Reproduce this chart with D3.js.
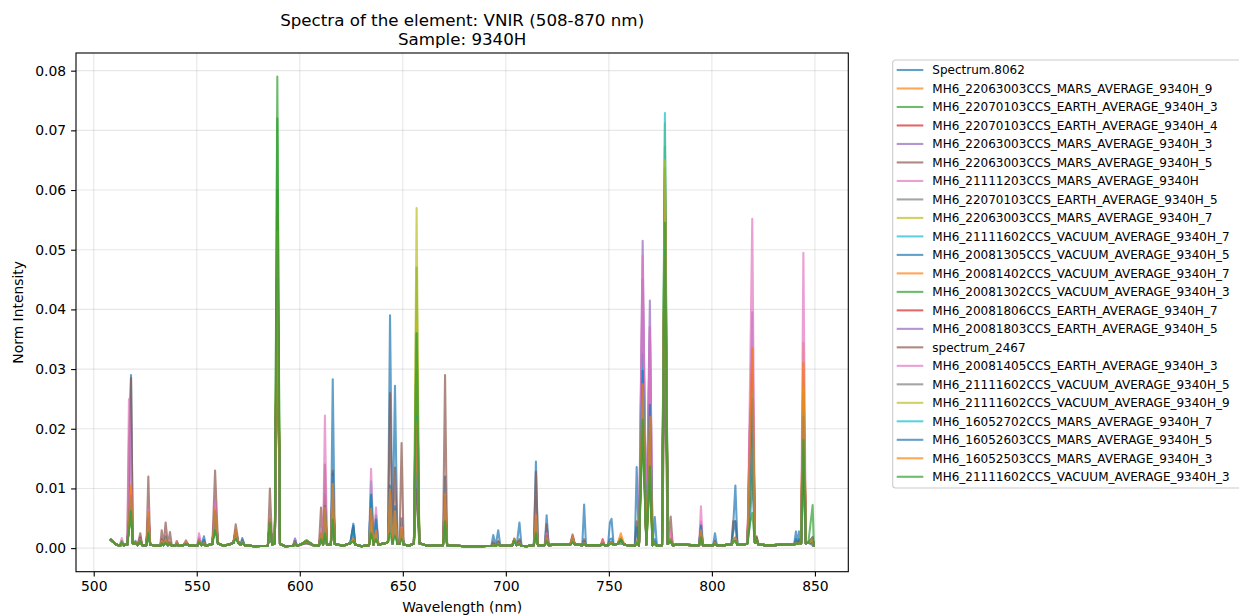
<!DOCTYPE html>
<html>
<head>
<meta charset="utf-8">
<title>Spectra of the element: VNIR</title>
<script src="https://cdn.jsdelivr.net/npm/d3@7"></script>
<style>
  body { margin: 0; background: #fff; }
  svg { font-family: "DejaVu Sans", sans-serif; }
</style>
</head>
<body>
<svg id="chart" width="1239" height="615"></svg>
<script>
// ---- data ----
const seriesNames = [
  "Spectrum.8062",
  "MH6_22063003CCS_MARS_AVERAGE_9340H_9",
  "MH6_22070103CCS_EARTH_AVERAGE_9340H_3",
  "MH6_22070103CCS_EARTH_AVERAGE_9340H_4",
  "MH6_22063003CCS_MARS_AVERAGE_9340H_3",
  "MH6_22063003CCS_MARS_AVERAGE_9340H_5",
  "MH6_21111203CCS_MARS_AVERAGE_9340H",
  "MH6_22070103CCS_EARTH_AVERAGE_9340H_5",
  "MH6_22063003CCS_MARS_AVERAGE_9340H_7",
  "MH6_21111602CCS_VACUUM_AVERAGE_9340H_7",
  "MH6_20081305CCS_VACUUM_AVERAGE_9340H_5",
  "MH6_20081402CCS_VACUUM_AVERAGE_9340H_7",
  "MH6_20081302CCS_VACUUM_AVERAGE_9340H_3",
  "MH6_20081806CCS_EARTH_AVERAGE_9340H_7",
  "MH6_20081803CCS_EARTH_AVERAGE_9340H_5",
  "spectrum_2467",
  "MH6_20081405CCS_EARTH_AVERAGE_9340H_3",
  "MH6_21111602CCS_VACUUM_AVERAGE_9340H_5",
  "MH6_21111602CCS_VACUUM_AVERAGE_9340H_9",
  "MH6_16052702CCS_MARS_AVERAGE_9340H_7",
  "MH6_16052603CCS_MARS_AVERAGE_9340H_5",
  "MH6_16052503CCS_MARS_AVERAGE_9340H_3",
  "MH6_21111602CCS_VACUUM_AVERAGE_9340H_3"
];

// emission line centres (nm)
const peakNm = [
  513.6, 517.1, 518.1, 520.3, 522.6, 526.5, 533.0, 534.9, 537.0, 540.3,
  544.8, 551.1, 553.5, 558.9, 568.9, 572.1, 585.5, 589.1, 597.7, 603.3,
  610.3, 612.2, 616.0, 626.0, 634.6, 637.0, 643.8, 646.2, 649.4, 656.7,
  670.5, 693.9, 696.3, 704.1, 706.6, 714.6, 719.8, 732.4, 738.0, 747.0,
  750.5, 751.3, 755.8, 763.5, 766.4, 769.9, 772.3, 777.2, 780.0, 794.7,
  801.5, 810.3, 811.4, 818.4, 819.6, 821.7, 840.8, 842.3, 844.4, 848.9
];

// continuum between the lines, common to all spectra
const floorNm = [
  508, 510.5, 512.6, 514.6, 516.3, 519.0, 521.3, 523.5, 525.6, 527.4,
  530, 532.3, 533.9, 536.0, 537.9, 539.5, 541.3, 543.5, 546, 549,
  550.3, 552.3, 554.4, 557.6, 560.3, 563, 566.5, 567.8, 570.3, 571.3,
  573.2, 578, 584.5, 586.6, 587.9, 590.4, 593, 596.8, 598.6, 600.5,
  606.5, 609.3, 611.3, 613.2, 615.1, 617, 621, 624.5, 626.9, 630,
  633.6, 635.8, 638.1, 641.5, 642.8, 645, 647.4, 648.4, 650.4, 653,
  655.4, 658, 662, 669.5, 671.5, 680, 688, 693.0, 695.1, 697.3,
  701, 703.2, 705.3, 707.6, 710, 713.6, 715.6, 718.9, 720.8, 726,
  731.3, 733.5, 737.1, 738.9, 743, 746.1, 747.9, 749.6, 752.3, 754.2,
  757.4, 760, 762.6, 764.6, 768.2, 771.2, 773.3, 775.8, 778.6, 781,
  785, 790, 793.8, 795.6, 798, 800.6, 802.4, 806, 809.5, 812.4,
  816, 817.3, 820.9, 822.6, 826, 830, 836, 839.9, 841.6, 843.3,
  845.6, 846.8, 849.5
];
const floorVal = [
  0.0015, 0.0007, 0.0004, 0.0005, 0.0006, 0.0008, 0.0005, 0.0005, 0.0005, 0.0006,
  0.0004, 0.0004, 0.0005, 0.0005, 0.0004, 0.0004, 0.0004, 0.0005, 0.0005, 0.0004,
  0.0004, 0.0005, 0.0004, 0.0007, 0.0008, 0.0004, 0.0007, 0.0009, 0.0008, 0.0006,
  0.0005, 0.0003, 0.0004, 0.0006, 0.0008, 0.0007, 0.0003, 0.0004, 0.0004, 0.0006,
  0.0005, 0.0004, 0.0006, 0.0006, 0.0006, 0.0007, 0.0004, 0.0008, 0.0006, 0.0003,
  0.0005, 0.0006, 0.0006, 0.0008, 0.001, 0.0008, 0.0007, 0.0007, 0.0006, 0.0004,
  0.0008, 0.0008, 0.0004, 0.0005, 0.0005, 0.0003, 0.0003, 0.0004, 0.0004, 0.0004,
  0.0004, 0.0005, 0.0005, 0.0004, 0.0003, 0.0005, 0.0005, 0.0005, 0.0005, 0.0006,
  0.0006, 0.0006, 0.0005, 0.0005, 0.0005, 0.0005, 0.0005, 0.0005, 0.0006, 0.0007,
  0.0006, 0.0004, 0.0004, 0.0004, 0.0006, 0.0005, 0.0004, 0.0005, 0.0007, 0.0005,
  0.0006, 0.0005, 0.0005, 0.0005, 0.0005, 0.0005, 0.0005, 0.0005, 0.0006, 0.0006,
  0.0006, 0.0008, 0.0009, 0.0006, 0.0005, 0.0005, 0.0006, 0.0006, 0.0007, 0.0008,
  0.0008, 0.0009, 0.0003
];

// line heights per spectrum, same order as peakNm
const sp00 = [0.0005,0.004,0.029,0.0012,0.0015,0.006,0.0015,0.002,0.001,0.0008,
  0.0008,0.0012,0.002,0.005,0.0025,0.0017,0.003,0.047,0.0016,0.0008,
  0.002,0.006,0.0283,0.0041,0.009,0.0055,0.039,0.0272,0.005,0.012,
  0.012,0.0022,0.003,0.001,0.0043,0.0145,0.0055,0.001,0.0073,0.001,
  0.0043,0.0049,0.0008,0.0136,0.0325,0.024,0.0052,0.054,0.0015,0.004,
  0.0025,0.0035,0.0105,0.004,0.012,0.001,0.0028,0.0028,0.02,0.0005];
const sp01 = [0.0006,0.004,0.0105,0.0008,0.0012,0.006,0.001,0.0012,0.0009,0.0006,
  0.0008,0.0012,0.0008,0.0065,0.003,0.001,0.0045,0.055,0.0006,0.001,
  0.0025,0.007,0.010,0.0015,0.0065,0.003,0.0095,0.006,0.0035,0.030,
  0.0085,0.0005,0.0006,0.0015,0.0008,0.005,0.0018,0.002,0.0008,0.0009,
  0.0008,0.0009,0.0018,0.001,0.0277,0.0205,0.0008,0.058,0.0012,0.0028,
  0.0008,0.0012,0.0018,0.015,0.0335,0.0013,0.0008,0.0008,0.0344,0.0015];
const sp02 = [0.0007,0.0035,0.006,0.0008,0.001,0.0035,0.0009,0.001,0.0008,0.0006,
  0.0007,0.001,0.0007,0.0045,0.0022,0.0009,0.0045,0.072,0.0007,0.0013,
  0.0018,0.005,0.008,0.0014,0.004,0.002,0.006,0.004,0.0025,0.047,
  0.0055,0.0005,0.0006,0.0012,0.0007,0.0035,0.0013,0.0014,0.0007,0.0007,
  0.0007,0.0008,0.001,0.0009,0.021,0.013,0.0008,0.0673,0.001,0.002,
  0.0007,0.001,0.0013,0.009,0.02,0.001,0.0007,0.0007,0.0262,0.0012];
const sp03 = [0.0006,0.004,0.007,0.0008,0.0012,0.0045,0.001,0.0012,0.0009,0.0006,
  0.0008,0.0012,0.0008,0.0055,0.0025,0.001,0.0042,0.052,0.0008,0.0012,
  0.0022,0.0065,0.0095,0.0015,0.005,0.0025,0.0085,0.0055,0.003,0.026,
  0.0065,0.0006,0.0007,0.0012,0.0008,0.0042,0.0016,0.0016,0.0008,0.0008,
  0.0007,0.0008,0.0012,0.001,0.026,0.019,0.0008,0.056,0.0014,0.0026,
  0.0008,0.0013,0.0016,0.0205,0.027,0.0016,0.0008,0.0008,0.024,0.0015];
const sp04 = [0.0006,0.0035,0.006,0.0008,0.0011,0.004,0.001,0.0011,0.0009,0.0006,
  0.0007,0.0011,0.0008,0.0048,0.0023,0.001,0.0038,0.048,0.0007,0.0011,
  0.0019,0.0055,0.0085,0.0014,0.0045,0.0022,0.0075,0.0048,0.0028,0.022,
  0.0055,0.0006,0.0007,0.0011,0.0008,0.0038,0.0014,0.0014,0.0008,0.0008,
  0.0007,0.0008,0.0011,0.001,0.0515,0.0415,0.0008,0.052,0.0012,0.0024,
  0.0008,0.0012,0.0014,0.011,0.024,0.0011,0.0008,0.0008,0.022,0.0014];
const sp05 = [0.0007,0.0045,0.0075,0.0009,0.0013,0.005,0.0011,0.0013,0.001,0.0007,
  0.0008,0.0013,0.0009,0.0058,0.0027,0.0011,0.0045,0.05,0.0008,0.0012,
  0.0023,0.0068,0.0098,0.0016,0.0052,0.0026,0.009,0.0058,0.0032,0.027,
  0.0068,0.0006,0.0007,0.0013,0.0009,0.0045,0.0017,0.0018,0.0008,0.0009,
  0.0008,0.0009,0.0013,0.0011,0.028,0.021,0.0009,0.058,0.0015,0.0027,
  0.0009,0.0014,0.0017,0.013,0.028,0.0013,0.0009,0.0009,0.026,0.0016];
const sp06 = [0.0009,0.006,0.008,0.0009,0.0014,0.0055,0.0012,0.0014,0.001,0.0008,
  0.0009,0.0018,0.0009,0.008,0.003,0.0011,0.0048,0.046,0.0014,0.0012,
  0.0028,0.009,0.011,0.0016,0.007,0.0032,0.0095,0.0065,0.0035,0.024,
  0.0075,0.0006,0.0008,0.0013,0.0009,0.0055,0.002,0.0018,0.0009,0.0009,
  0.0008,0.0009,0.0014,0.0012,0.032,0.0285,0.0009,0.05,0.003,0.0045,
  0.0009,0.0014,0.0017,0.016,0.032,0.0014,0.0009,0.0009,0.028,0.0018];
const sp07 = [0.0006,0.0038,0.0062,0.0008,0.0011,0.0038,0.001,0.0011,0.0009,0.0006,
  0.0008,0.0011,0.0008,0.0048,0.0024,0.001,0.0039,0.049,0.0008,0.0012,
  0.0019,0.0058,0.0088,0.0014,0.0048,0.0024,0.0078,0.0049,0.0029,0.024,
  0.0058,0.0006,0.0007,0.0012,0.0008,0.0039,0.0015,0.0015,0.0008,0.0008,
  0.0007,0.0008,0.0012,0.001,0.025,0.0175,0.0008,0.054,0.0012,0.0024,
  0.0008,0.0012,0.0015,0.012,0.025,0.0012,0.0008,0.0008,0.023,0.0014];
const sp08 = [0.0006,0.004,0.0065,0.0008,0.0011,0.0042,0.001,0.0012,0.0009,0.0006,
  0.0008,0.0012,0.0008,0.005,0.0025,0.001,0.004,0.058,0.0008,0.0012,
  0.002,0.006,0.009,0.0015,0.005,0.0025,0.0082,0.0052,0.003,0.057,
  0.0062,0.0006,0.0007,0.0012,0.0008,0.004,0.0015,0.0016,0.0008,0.0008,
  0.0007,0.0008,0.0012,0.001,0.027,0.019,0.0008,0.0712,0.0013,0.0025,
  0.0008,0.0012,0.0015,0.013,0.029,0.0012,0.0008,0.0008,0.031,0.0015];
const sp09 = [0.0006,0.0035,0.0065,0.0008,0.001,0.0038,0.0009,0.001,0.0008,0.0006,
  0.0007,0.001,0.0008,0.0045,0.0022,0.0009,0.0038,0.05,0.0007,0.0012,
  0.0018,0.0055,0.009,0.0014,0.0112,0.0053,0.009,0.005,0.0028,0.03,
  0.0058,0.0005,0.0006,0.0012,0.0007,0.0038,0.0014,0.0014,0.0007,0.0007,
  0.0007,0.0008,0.001,0.0009,0.032,0.024,0.0008,0.0729,0.0012,0.0024,
  0.0007,0.0011,0.0014,0.011,0.022,0.0011,0.0007,0.0007,0.0279,0.0013];
const sp10 = [0.0006,0.0038,0.0072,0.0008,0.0011,0.0042,0.001,0.0011,0.0009,0.0006,
  0.0008,0.0011,0.0009,0.005,0.0025,0.001,0.004,0.052,0.0008,0.0012,
  0.002,0.006,0.0095,0.0015,0.006,0.003,0.0085,0.0055,0.003,0.028,
  0.0062,0.0006,0.0007,0.0012,0.0008,0.004,0.0015,0.0015,0.0008,0.0008,
  0.0007,0.0008,0.0012,0.001,0.0297,0.0215,0.0008,0.06,0.0013,0.0026,
  0.0008,0.0012,0.0015,0.012,0.026,0.0012,0.0008,0.0008,0.025,0.0015];
const sp11 = [0.0006,0.0042,0.0085,0.0008,0.0012,0.0058,0.001,0.0012,0.0009,0.0006,
  0.0008,0.0012,0.0008,0.006,0.0028,0.001,0.0042,0.056,0.0008,0.0012,
  0.0022,0.0068,0.0105,0.0015,0.0055,0.0028,0.009,0.0058,0.0033,0.032,
  0.0078,0.0006,0.0007,0.0014,0.0008,0.0048,0.0016,0.0019,0.0008,0.0009,
  0.0008,0.0009,0.0016,0.001,0.0275,0.0135,0.0008,0.06,0.0013,0.0027,
  0.0008,0.0013,0.0017,0.014,0.031,0.0013,0.0008,0.0008,0.03,0.0015];
const sp12 = [0.0006,0.0035,0.006,0.0007,0.001,0.0035,0.0009,0.001,0.0008,0.0006,
  0.0007,0.001,0.0007,0.0042,0.002,0.0009,0.0038,0.06,0.0007,0.0013,
  0.0018,0.005,0.0078,0.0013,0.004,0.002,0.0065,0.0042,0.0026,0.036,
  0.0052,0.0005,0.0006,0.0012,0.0007,0.0034,0.0013,0.0014,0.0007,0.0007,
  0.0007,0.0008,0.001,0.0009,0.02,0.012,0.0008,0.0637,0.001,0.002,
  0.0007,0.001,0.0012,0.008,0.017,0.001,0.0007,0.0007,0.0181,0.0012];
const sp13 = [0.0007,0.0042,0.007,0.0009,0.0018,0.0048,0.001,0.0012,0.0009,0.0007,
  0.0008,0.0013,0.0008,0.0055,0.0026,0.001,0.0045,0.05,0.0009,0.0012,
  0.0023,0.0065,0.0095,0.0015,0.005,0.0025,0.0085,0.0055,0.003,0.026,
  0.0068,0.0006,0.0007,0.0013,0.0008,0.0042,0.0022,0.0017,0.0008,0.0015,
  0.0008,0.0009,0.0012,0.0011,0.026,0.0195,0.0009,0.057,0.0016,0.0028,
  0.0008,0.0013,0.0016,0.019,0.029,0.0018,0.0008,0.0008,0.025,0.0016];
const sp14 = [0.0006,0.0038,0.0065,0.0008,0.0011,0.0042,0.001,0.0011,0.0009,0.0006,
  0.0008,0.0011,0.0008,0.005,0.0024,0.001,0.004,0.05,0.0008,0.0012,
  0.002,0.006,0.009,0.0015,0.005,0.0024,0.008,0.005,0.003,0.025,
  0.006,0.0006,0.0007,0.0012,0.0008,0.004,0.0015,0.0015,0.0008,0.0008,
  0.0007,0.0008,0.0012,0.001,0.045,0.037,0.0008,0.055,0.0013,0.0025,
  0.0008,0.0012,0.0015,0.018,0.0395,0.0012,0.0008,0.0008,0.024,0.0015];
const sp15 = [0.0008,0.018,0.0285,0.001,0.0025,0.012,0.003,0.0043,0.0027,0.0012,
  0.0013,0.0015,0.001,0.013,0.004,0.0012,0.010,0.04,0.001,0.0008,
  0.0068,0.014,0.013,0.0035,0.006,0.003,0.026,0.0135,0.0176,0.01,
  0.029,0.001,0.0012,0.0015,0.0015,0.0128,0.004,0.0023,0.0015,0.001,
  0.001,0.001,0.0008,0.0045,0.025,0.02,0.001,0.03,0.0053,0.0035,
  0.001,0.0045,0.0045,0.01,0.02,0.002,0.0012,0.0012,0.012,0.0008];
const sp16 = [0.0017,0.025,0.012,0.001,0.0015,0.0065,0.0012,0.0014,0.001,0.0008,
  0.0009,0.0025,0.0009,0.008,0.0028,0.0011,0.0045,0.045,0.0015,0.0012,
  0.003,0.0222,0.012,0.0016,0.0133,0.0068,0.009,0.0065,0.0035,0.026,
  0.008,0.0006,0.0008,0.0013,0.0009,0.005,0.0025,0.0018,0.0009,0.0012,
  0.0008,0.0009,0.0014,0.0012,0.049,0.037,0.0009,0.052,0.003,0.007,
  0.0009,0.0014,0.0017,0.025,0.0552,0.0014,0.0009,0.0009,0.0495,0.0019];
const sp17 = [0.0006,0.0035,0.006,0.0008,0.001,0.0036,0.0009,0.001,0.0008,0.0006,
  0.0007,0.001,0.0007,0.0045,0.0022,0.0009,0.0038,0.051,0.0007,0.0013,
  0.0018,0.0052,0.0082,0.0014,0.0045,0.0022,0.0072,0.0045,0.0027,0.035,
  0.0056,0.0005,0.0006,0.0012,0.0007,0.0036,0.0013,0.0014,0.0007,0.0007,
  0.0007,0.0008,0.001,0.0009,0.024,0.017,0.0008,0.062,0.0011,0.0022,
  0.0007,0.0011,0.0013,0.01,0.021,0.0011,0.0007,0.0007,0.026,0.0013];
const sp18 = [0.0006,0.0036,0.0062,0.0008,0.001,0.0038,0.0009,0.001,0.0008,0.0006,
  0.0007,0.001,0.0007,0.0046,0.0022,0.0009,0.0038,0.053,0.0007,0.0013,
  0.0018,0.0054,0.0085,0.0014,0.0046,0.0023,0.0074,0.0046,0.0027,0.038,
  0.0057,0.0005,0.0006,0.0012,0.0007,0.0037,0.0013,0.0014,0.0007,0.0007,
  0.0007,0.0008,0.001,0.0009,0.025,0.0175,0.0008,0.065,0.0011,0.0022,
  0.0007,0.0011,0.0013,0.011,0.023,0.0011,0.0007,0.0007,0.027,0.0013];
const sp19 = [0.0007,0.0045,0.0078,0.0009,0.0012,0.0048,0.001,0.0012,0.0009,0.0007,
  0.0008,0.0012,0.0009,0.0058,0.0026,0.0012,0.0045,0.046,0.0009,0.0011,
  0.0022,0.0065,0.011,0.0028,0.009,0.0042,0.0095,0.0065,0.003,0.022,
  0.007,0.0006,0.0008,0.0016,0.0009,0.0045,0.0017,0.0017,0.0009,0.0009,
  0.0008,0.0009,0.0013,0.0012,0.03,0.022,0.0009,0.05,0.0014,0.0035,
  0.0009,0.0014,0.0017,0.012,0.026,0.0013,0.0009,0.0009,0.023,0.0016];
const sp20 = [0.0007,0.0048,0.0088,0.0009,0.0013,0.0052,0.0011,0.0013,0.001,0.0007,
  0.0008,0.0013,0.0014,0.0062,0.0028,0.0014,0.0048,0.045,0.0012,0.0011,
  0.0024,0.007,0.0125,0.0038,0.0089,0.0048,0.0105,0.007,0.0032,0.02,
  0.0088,0.0008,0.001,0.0015,0.0012,0.005,0.002,0.0018,0.0012,0.0009,
  0.0015,0.0016,0.0013,0.0035,0.0297,0.024,0.0015,0.048,0.0015,0.0038,
  0.0012,0.0025,0.0045,0.012,0.025,0.0013,0.0015,0.0015,0.022,0.0018];
const sp21 = [0.0007,0.0045,0.0105,0.0009,0.0013,0.006,0.0012,0.0014,0.001,0.0008,
  0.0009,0.0013,0.0009,0.0065,0.003,0.0011,0.0048,0.046,0.0009,0.0011,
  0.0025,0.0068,0.0108,0.0016,0.0066,0.003,0.0098,0.0062,0.0035,0.021,
  0.009,0.0006,0.0008,0.0016,0.0009,0.0055,0.0018,0.002,0.0009,0.001,
  0.0009,0.001,0.0025,0.0012,0.0275,0.022,0.0009,0.049,0.0015,0.003,
  0.0009,0.0014,0.0018,0.016,0.0335,0.0014,0.0009,0.0009,0.031,0.0016];
const sp22 = [0.0012,0.003,0.0062,0.0008,0.0012,0.0025,0.0008,0.0009,0.0008,0.0006,
  0.0007,0.001,0.0007,0.003,0.0015,0.0009,0.0042,0.079,0.0008,0.0012,
  0.0015,0.0025,0.0048,0.0012,0.0025,0.0015,0.0025,0.002,0.0015,0.036,
  0.0045,0.0005,0.0006,0.0012,0.0007,0.0025,0.0012,0.001,0.0007,0.0007,
  0.0007,0.0008,0.0015,0.0009,0.0215,0.0137,0.0008,0.0545,0.0012,0.0018,
  0.0007,0.0012,0.0012,0.004,0.0059,0.0015,0.0008,0.0008,0.0181,0.0072];

const peakHeights = [sp00, sp01, sp02, sp03, sp04, sp05, sp06, sp07, sp08, sp09, sp10, sp11,
  sp12, sp13, sp14, sp15, sp16, sp17, sp18, sp19, sp20, sp21, sp22];

const xTicks = [500, 550, 600, 650, 700, 750, 800, 850];
const yTicks = [0, 0.01, 0.02, 0.03, 0.04, 0.05, 0.06, 0.07, 0.08];

// ---- layout ----
const palette = ["#1f77b4", "#ff7f0e", "#2ca02c", "#d62728", "#9467bd",
  "#8c564b", "#e377c2", "#7f7f7f", "#bcbd22", "#17becf"];
const plot = { left: 76, right: 848.3, top: 53, bottom: 571.7 };
const tickFont = "13.9px";

const svg = d3.select("#chart");

const x = d3.scaleLinear().domain([491.4, 866.2]).range([plot.left, plot.right]);
const y = d3.scaleLinear().domain([-0.00395, 0.08296]).range([plot.bottom, plot.top]);

// grid
const grid = svg.append("g").attr("stroke", "#b0b0b0").attr("stroke-opacity", 0.3).attr("stroke-width", 1.1);
grid.selectAll("line.v").data(xTicks).enter().append("line")
  .attr("x1", d => x(d)).attr("x2", d => x(d))
  .attr("y1", plot.top).attr("y2", plot.bottom);
grid.selectAll("line.h").data(yTicks).enter().append("line")
  .attr("x1", plot.left).attr("x2", plot.right)
  .attr("y1", d => y(d)).attr("y2", d => y(d));

// spectra
function spectrumPoints(heights) {
  const pts = floorNm.map((nm, i) => [nm, floorVal[i]])
    .concat(peakNm.map((nm, i) => [nm, heights[i]]));
  return pts.sort((a, b) => a[0] - b[0]);
}

const line = d3.line()
  .x(d => x(d[0]))
  .y(d => y(d[1]));

svg.append("g").selectAll("path")
  .data(peakHeights)
  .enter()
  .append("path")
  .attr("d", d => line(spectrumPoints(d)))
  .attr("fill", "none")
  .attr("stroke", (d, i) => palette[i % 10])
  .attr("stroke-opacity", 0.7)
  .attr("stroke-width", 2.08)
  .attr("stroke-linejoin", "round");

// axes
const xAxis = svg.append("g")
  .attr("transform", `translate(0,${plot.bottom})`)
  .call(d3.axisBottom(x).tickValues(xTicks).tickSize(4.9).tickPadding(4.9).tickFormat(d3.format("d")));
const yAxis = svg.append("g")
  .attr("transform", `translate(${plot.left},0)`)
  .call(d3.axisLeft(y).tickValues(yTicks).tickSize(4.9).tickPadding(4.9).tickFormat(d3.format(".2f")));
[xAxis, yAxis].forEach(a => {
  a.select(".domain").remove();
  a.attr("font-family", null).attr("font-size", tickFont);
  a.selectAll("line").attr("stroke", "#000").attr("stroke-width", 1.1);
  a.selectAll("text").attr("fill", "#000");
});

// frame
svg.append("rect")
  .attr("x", plot.left).attr("y", plot.top)
  .attr("width", plot.right - plot.left).attr("height", plot.bottom - plot.top)
  .attr("fill", "none").attr("stroke", "#000").attr("stroke-width", 1.1);

// titles
const cx = (plot.left + plot.right) / 2;
svg.append("text").attr("x", cx).attr("y", 26).attr("text-anchor", "middle")
  .style("font-size", "16.7px").text("Spectra of the element: VNIR (508-870 nm)");
svg.append("text").attr("x", cx).attr("y", 45).attr("text-anchor", "middle")
  .style("font-size", "16.7px").text("Sample: 9340H");
svg.append("text").attr("x", cx).attr("y", 612).attr("text-anchor", "middle")
  .style("font-size", tickFont).text("Wavelength (nm)");
svg.append("text")
  .attr("transform", `translate(23,${(plot.top + plot.bottom) / 2}) rotate(-90)`)
  .attr("text-anchor", "middle")
  .style("font-size", tickFont).text("Norm Intensity");

// legend
const legend = svg.append("g");
legend.append("rect")
  .attr("x", 892.7).attr("y", 60).attr("width", 360).attr("height", 428)
  .attr("rx", 3).attr("fill", "#fff").attr("fill-opacity", 0.8)
  .attr("stroke", "#cccccc").attr("stroke-width", 1.1);
const rows = legend.selectAll("g.row").data(seriesNames).enter().append("g")
  .attr("transform", (d, i) => `translate(0,${70 + i * 18.49})`);
rows.append("line")
  .attr("x1", 896.7).attr("x2", 923.3)
  .attr("stroke", (d, i) => palette[i % 10])
  .attr("stroke-opacity", 0.7).attr("stroke-width", 2.08);
rows.append("text")
  .attr("x", 932.3).attr("dy", "0.36em")
  .style("font-size", "12px")
  .text(d => d);
</script>
</body>
</html>
